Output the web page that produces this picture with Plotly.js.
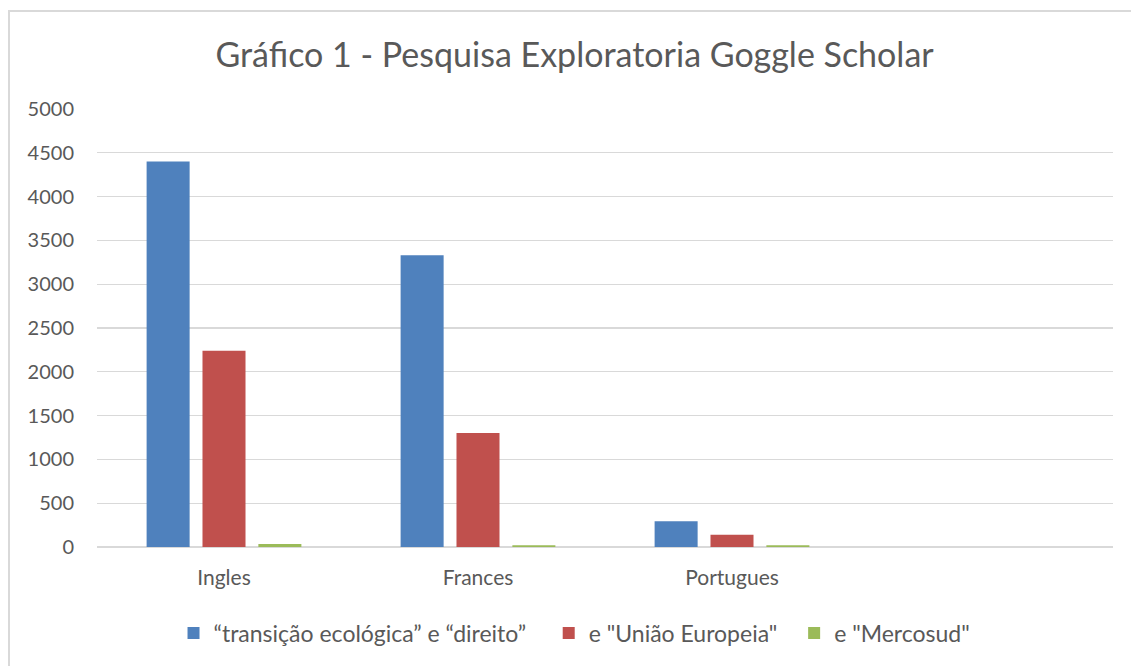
<!DOCTYPE html>
<html>
<head>
<meta charset="utf-8">
<script src="https://cdn.plot.ly/plotly-3.0.1.min.js"></script>
<style>
html,body{margin:0;padding:0;background:#fff;overflow:hidden;}
#frame{position:absolute;left:8px;top:10px;width:1200px;height:700px;border-left:2px solid #D9D9D9;border-top:2px solid #D9D9D9;box-sizing:border-box;pointer-events:none;z-index:5;}
#chart{position:absolute;left:0;top:0;width:1131px;height:666px;}
</style>
</head>
<body>
<div id="chart"></div>
<div id="frame"></div>
<script>
const categories = ['Ingles', 'Frances', 'Portugues'];
const seriesNames = ['\u201ctransição ecológica\u201d e \u201cdireito\u201d', 'e "União Europeia"', 'e "Mercosud"'];
const transicao = [4400, 3330, 295];
const uniaoEuropeia = [2240, 1300, 140];
const mercosud = [35, 20, 20];
const colors = ['#4F81BD', '#C0504D', '#9BBB59'];
const yTicks = [0, 500, 1000, 1500, 2000, 2500, 3000, 3500, 4000, 4500, 5000];

const font = 'Lato, "Open Sans", sans-serif';
const values = [transicao, uniaoEuropeia, mercosud];
const padCounts = [3, 2, 0];
const traces = values.map((v, i) => ({
  type: 'bar', x: categories, y: v, name: seriesNames[i] + '\u00a0'.repeat(padCounts[i]),
  marker: {color: colors[i]}, hoverinfo: 'x+y'
}));

const layout = {
  width: 1131, height: 666,
  margin: {l: 97, r: 18, t: 109, b: 118},
  paper_bgcolor: '#fff', plot_bgcolor: '#fff',
  title: {text: 'Gráfico 1 - Pesquisa Exploratoria Goggle Scholar', font: {family: font, size: 34, color: '#595959'}, x: 0.508, xanchor: 'center', y: 0.917, yanchor: 'middle'},
  barmode: 'group', bargap: 0.34, bargroupgap: 0.23,
  xaxis: {type: 'category', range: [-0.5, 3.5], showgrid: false, zeroline: false, showline: false, ticks: '',
    tickfont: {family: font, size: 21, color: '#595959'}, ticklabelstandoff: 16, fixedrange: true},
  yaxis: {range: [0, 5000], tickvals: yTicks, ticktext: yTicks.map(String), showgrid: true, gridcolor: '#D9D9D9', gridwidth: 1.3,
    zeroline: true, zerolinecolor: '#D9D9D9', zerolinewidth: 1.5, showline: false, ticks: '',
    tickfont: {family: font, size: 20, color: '#595959'}, ticklabelstandoff: 22, fixedrange: true},
  legend: {orientation: 'h', x: 0.47, xanchor: 'center', y: -0.194, yanchor: 'middle',
    font: {family: font, size: 23, color: '#595959'}, itemwidth: 30, traceorder: 'normal'},
  showlegend: true
};
Plotly.newPlot('chart', traces, layout, {displayModeBar: false, staticPlot: true});
</script>
</body>
</html>
